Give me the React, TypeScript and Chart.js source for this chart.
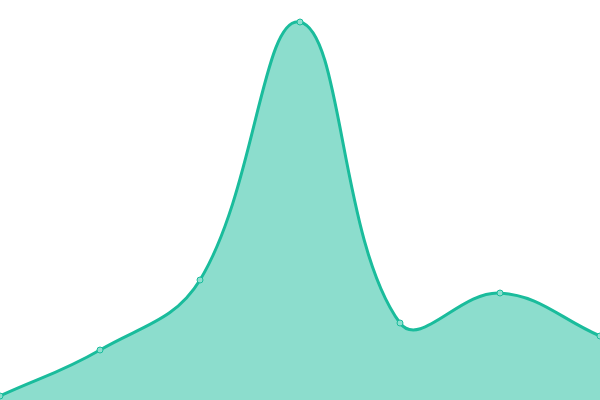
import { useRef, useEffect } from 'react';
import { Chart, LineController } from 'chart.js/auto';

const labels = ['1', '2', '3', '4', '5', '6', '7'];
const values = [4, 50, 120, 378, 77, 107, 64];

// line controller without the extra padding chart.js reserves for edge points
class EdgeLineController extends LineController {
  static id = 'edgeLine';
  static defaults = LineController.defaults;
  static overrides = LineController.overrides;
  getMaxOverflow() {
    return 0;
  }
}
Chart.register(EdgeLineController);

export default function App() {
  const canvasRef = useRef<HTMLCanvasElement>(null);

  useEffect(() => {
    document.body.style.margin = '0';
    if (!canvasRef.current) return;
    const ctx = canvasRef.current.getContext('2d');
    if (!ctx) return;

    const chart = new Chart(ctx, {
      type: 'edgeLine' as any,
      data: {
        labels,
        datasets: [
          {
            data: values,
            borderColor: '#1abc9c',
            backgroundColor: 'rgba(26, 188, 156, 0.5)',
            pointBackgroundColor: '#8ddfcf',
            pointBorderColor: '#1abc9c',
            pointRadius: 3,
            pointBorderWidth: 1,
            borderWidth: 3,
            fill: true,
            tension: 0.4,
          },
        ],
      },
      options: {
        animation: false,
        responsive: true,
        maintainAspectRatio: false,
        layout: { padding: 0 },
        plugins: { legend: { display: false }, tooltip: { enabled: false } },
        scales: {
          x: { type: 'category', display: false },
          y: { type: 'linear', display: false, min: 0, max: 400 },
        },
      },
    });

    return () => {
      chart.destroy();
    };
  }, []);

  return (
    <div style={{ width: 600, height: 400, position: 'relative' }}>
      <canvas ref={canvasRef} />
    </div>
  );
}
